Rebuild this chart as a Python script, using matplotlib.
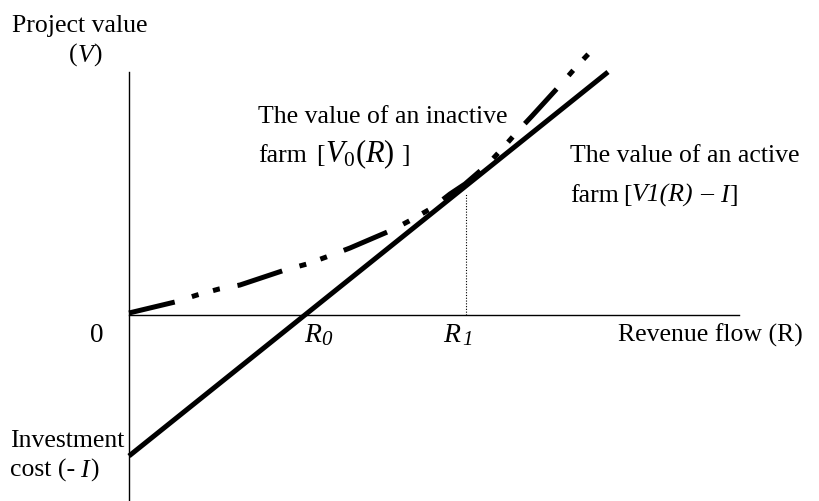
# diagrama_opcion_real.py
import matplotlib.pyplot as plt

# Fuentes tipo Times
plt.rcParams['font.family'] = ['Liberation Serif', 'DejaVu Serif']
plt.rcParams['mathtext.fontset'] = 'custom'
plt.rcParams['mathtext.rm'] = 'Liberation Serif'
plt.rcParams['mathtext.it'] = 'Liberation Serif:italic'

# Datos (R = flujo de ingresos, V = valor)
R_activa = [0.0, 4.79]
V_activa = [-1.41, 2.43]

R_inactiva = [0.0, 0.46, 0.68, 0.90, 1.11, 1.56, 1.78, 2.00, 2.21, 2.63, 2.82,
              3.03, 3.21, 3.36, 3.58, 3.73, 3.88, 4.03, 4.34, 4.48, 4.67]
V_inactiva = [0.02, 0.13, 0.20, 0.26, 0.30, 0.45, 0.51, 0.59, 0.67, 0.85, 0.95,
              1.07, 1.21, 1.31, 1.50, 1.66, 1.83, 1.99, 2.33, 2.49, 2.69]

R0 = 1.76
R1 = 3.37
V_R1 = 1.21

fig = plt.figure(figsize=(8.2, 5.02), dpi=100)
ax = fig.add_axes([0, 0, 1, 1])
ax.set_xlim(-1.29, 6.91)
ax.set_ylim(-1.86, 3.16)
ax.axis('off')
renderer = fig.canvas.get_renderer()

def texto_en_linea(x, y, partes):
    """Escribe trozos de texto uno tras otro sobre la misma linea base.
    Cada parte: (texto, propiedades, hueco en px, subida en unidades de datos)."""
    for s, props, hueco, subida in partes:
        t = ax.text(x, y + subida, s, va='baseline', **props)
        ancho = t.get_window_extent(renderer).width
        # 1 unidad de datos = 100 px en x
        x += (ancho + hueco) / 100.0

# Ejes dibujados a mano
ax.plot([0, 0], [-1.86, 2.43], color='black', lw=1.0)
ax.plot([0, 6.10], [0, 0], color='black', lw=1.0)

# Linea punteada en R1
ax.plot([R1, R1], [0, V_R1], color='black', lw=0.8, linestyle=(0, (1, 1.5)))

# Valor de la granja activa
ax.plot(R_activa, V_activa, color='black', lw=3.6, solid_capstyle='butt')

# Valor de la granja inactiva (raya-punto-punto)
ax.plot(R_inactiva, V_inactiva, color='black', lw=3.6,
        linestyle=(0, (9.4, 3.6, 1.4, 3.0, 1.4, 3.6)), dash_capstyle='butt')

fs = 18.5
normal = {'fontsize': fs}
italica = {'fontsize': fs, 'style': 'italic'}

ax.text(-1.17, 2.84, 'Project value', fontsize=fs, va='baseline')
texto_en_linea(-0.60, 2.54, [('(', normal, 0, 0), ('V', italica, 0, 0), (')', normal, 0, 0)])

# Granja inactiva
ax.text(1.29, 1.93, 'The value of an inactive', fontsize=fs, va='baseline')
texto_en_linea(1.29, 1.54, [('farm', normal, 9, 0),
                            ('[', normal, 1, 0),
                            (r'$V_0(R)$', {'fontsize': 22}, 6, 0),
                            (']', normal, 0, 0)])

# Granja activa
ax.text(4.41, 1.54, 'The value of an active', fontsize=fs, va='baseline')
texto_en_linea(4.41, 1.14, [('farm', normal, 4, 0),
                            ('[', normal, 0, 0),
                            ('V1(R)', italica, 7, 0),
                            ('–', normal, 7, 0.025),
                            ('I', italica, 1, 0),
                            (']', normal, 0, 0)])

# Eje horizontal
ax.text(-0.39, -0.26, '0', fontsize=19.5, va='baseline')
ax.text(R0 - 0.005, -0.26, 'R', fontsize=20, style='italic', va='baseline')
ax.text(R0 + 0.16, -0.29, '0', fontsize=15, style='italic', va='baseline')
ax.text(R1 - 0.23, -0.26, 'R', fontsize=20, style='italic', va='baseline')
ax.text(R1 - 0.04, -0.29, '1', fontsize=15, style='italic', va='baseline')
ax.text(4.89, -0.26, 'Revenue flow (R)', fontsize=fs, va='baseline')

# Eje vertical
ax.text(-1.19, -1.31, 'Investment', fontsize=fs, va='baseline')
texto_en_linea(-1.19, -1.61, [('cost (-', normal, 5, 0), ('I', italica, 1, 0), (')', normal, 0, 0)])

plt.savefig('out.png', dpi=100)
